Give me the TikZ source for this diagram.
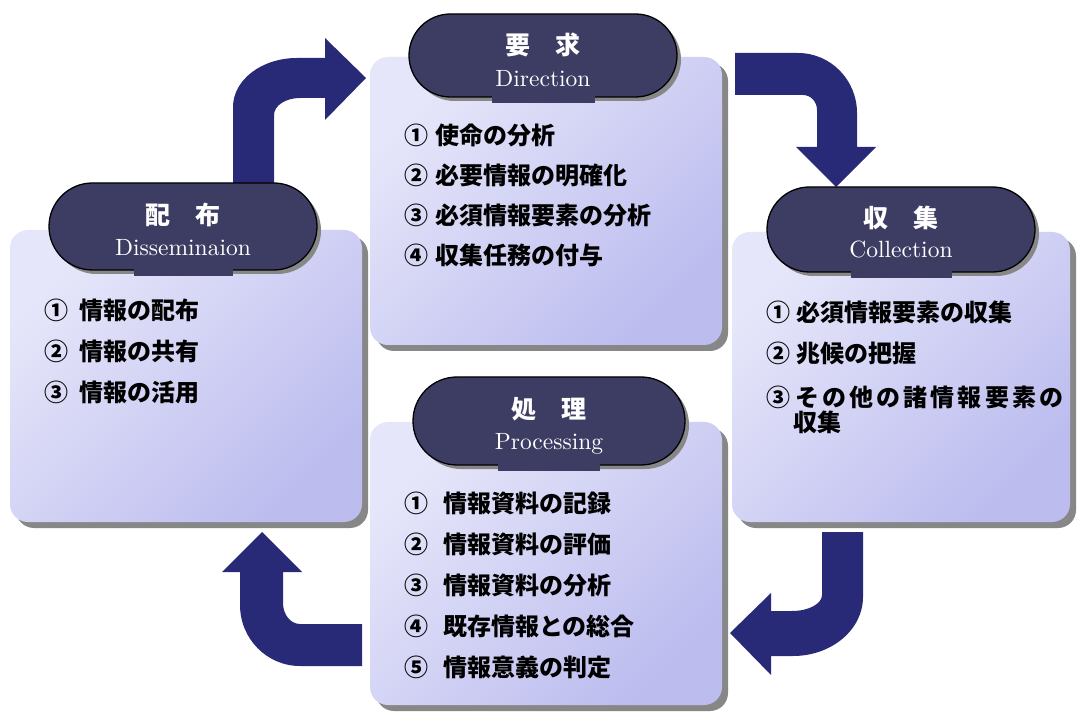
\documentclass[tikz,border=0pt]{standalone}
\usepackage{fontspec}
\newfontfamily\jp{Noto Sans CJK JP}
\newfontfamily\enfont{lmroman10-regular}[Extension=.otf]
\usetikzlibrary{shapes.misc,shadows,calc}
\definecolor{arrowblue}{HTML}{282A78}
\definecolor{pillnavy}{HTML}{3D3C63}
\definecolor{boxlight}{HTML}{E6E6FA}
\definecolor{boxdark}{HTML}{BCBCEF}
\definecolor{shadowgray}{HTML}{878787}
\tikzset{
  stagebox/.style={rectangle, rounded corners=18pt, inner sep=0pt,
    top color=boxlight, bottom color=boxdark, shading angle=45,
    drop shadow={shadow xshift=6pt, shadow yshift=-6pt, fill=shadowgray, opacity=1}},
  pill/.style={rounded rectangle, draw=black, line width=1.3pt, fill=pillnavy, inner sep=0pt,
    minimum width=268pt,
    drop shadow={shadow xshift=4pt, shadow yshift=-4pt, fill=shadowgray, opacity=1}},
  titlejp/.style={inner sep=0pt, text=white, font=\jp\bfseries\fontsize{25}{25}\selectfont},
  titleen/.style={inner sep=0pt, anchor=base, text=white, font=\enfont\fontsize{23.5}{24}\selectfont},
  listjp/.style={anchor=west, inner sep=0pt, font=\jp\bfseries\fontsize{24}{24}\selectfont},
  blockarrow/.style={fill=arrowblue}
}
\begin{document}
\begin{tikzpicture}[x=1pt,y=1pt]
\useasboundingbox[fill=white] (0,0) rectangle (1079,713);

% block arrows
\fill[blockarrow] (233,528) -- (233,606) arc[start angle=180, end angle=90, x radius=64, y radius=49]
  -- (325,655) -- (325,675) -- (366,635) -- (325,593) -- (325,615) -- (300,615)
  arc[start angle=90, end angle=180, x radius=26, y radius=17] -- (274,528) -- cycle;
\fill[blockarrow] (735,660) -- (798,660) arc[start angle=90, end angle=0, x radius=59, y radius=60]
  -- (857,566) -- (876,566) -- (836,526) -- (796,566) -- (817,566) -- (817,603)
  arc[start angle=0, end angle=90, x radius=14, y radius=15] -- (735,618) -- cycle;
\fill[blockarrow] (822,181) -- (863,181) -- (863,116) arc[start angle=0, end angle=-90, x radius=70, y radius=59]
  -- (771,57) -- (771,38) -- (730,80) -- (771,120) -- (771,102) -- (792,102)
  arc[start angle=-90, end angle=0, x radius=30, y radius=16] -- cycle;
\fill[blockarrow] (362,89) -- (300,89) arc[start angle=270, end angle=180, x radius=17, y radius=21]
  -- (283,141) -- (302,141) -- (262,181) -- (222,141) -- (240,141) -- (240,108)
  arc[start angle=180, end angle=270, x radius=60, y radius=61] -- (362,47) -- cycle;

% boxes
\node[stagebox, minimum width=352pt, minimum height=288pt] (dirbox) at (546,512) {};
\node[stagebox, minimum width=352pt, minimum height=292pt] (disbox) at (186,337) {};
\node[stagebox, minimum width=338pt, minimum height=290pt] (colbox) at (901,336) {};
\node[stagebox, minimum width=352pt, minimum height=283pt] (probox) at (546,149.5) {};

% pills
\node[pill, minimum height=83pt] (dirpill) at (543,657.5) {};
\node[pill, minimum height=87pt] (dispill) at (183,486.5) {};
\node[pill, minimum height=85pt] (colpill) at (901,483.5) {};
\node[pill, minimum width=272pt, minimum height=88pt] (propill) at (549,292) {};
\foreach \p in {dirpill,dispill,colpill,propill}{
  \fill[pillnavy] ($(\p.south west)+(41,-5)$) rectangle ($(\p.south east)+(-41,3)$);
}

% titles
\node[titlejp] (dirjp) at (543,668) {要　求};
\node[titleen] (diren) at (543,626) {Direction};
\node[titlejp] (disjp) at (183,498) {配　布};
\node[titleen] (disen) at (183,457) {Disseminaion};
\node[titlejp] (coljp) at (901,495) {収　集};
\node[titleen] (colen) at (901,455) {Collection};
\node[titlejp] (projp) at (549,304) {処　理};
\node[titleen] (proen) at (549,263) {Processing};

% lists
\node[listjp] (d1) at (404,578) {①\hspace{7pt}使命の分析};
\node[listjp] (d2) at (404,538) {②\hspace{7pt}必要情報の明確化};
\node[listjp] (d3) at (404,498) {③\hspace{7pt}必須情報要素の分析};
\node[listjp] (d4) at (404,458) {④\hspace{7pt}収集任務の付与};

\node[listjp] (s1) at (44,403) {①\hspace{11pt}情報の配布};
\node[listjp] (s2) at (44,362) {②\hspace{11pt}情報の共有};
\node[listjp] (s3) at (44,321) {③\hspace{11pt}情報の活用};

\node[listjp] (c1) at (766,401) {①\hspace{6pt}必須情報要素の収集};
\node[listjp] (c2) at (766,360) {②\hspace{6pt}兆候の把握};
\node[listjp] (c3) at (766,316) {③\hspace{5pt}{\addfontfeature{LetterSpace=13}その他の諸情報要素の}};
\node[listjp] (c3b) at (793,291) {収集};

\node[listjp] (p1) at (404,210) {①\hspace{15pt}情報資料の記録};
\node[listjp] (p2) at (404,169) {②\hspace{15pt}情報資料の評価};
\node[listjp] (p3) at (404,128) {③\hspace{15pt}情報資料の分析};
\node[listjp] (p4) at (404,87) {④\hspace{15pt}既存情報との総合};
\node[listjp] (p5) at (404,46) {⑤\hspace{15pt}情報意義の判定};
\end{tikzpicture}
\end{document}
